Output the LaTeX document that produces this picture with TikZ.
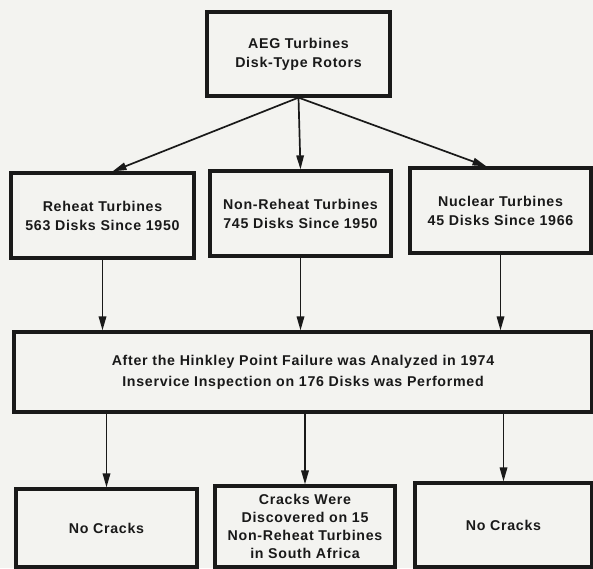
\documentclass[tikz,border=0pt]{standalone}
\usepackage{fontspec}
\setmainfont{Liberation Sans}
\newfontfamily\boxfont[LetterSpace=5]{Liberation Sans Bold}
\usetikzlibrary{arrows.meta}
\definecolor{paper}{RGB}{243,243,240}
\definecolor{ink}{RGB}{25,25,25}
\tikzset{
  box/.style={draw=ink, line width=3.2pt, fill=paper, align=center, inner sep=0pt,
    font=\boxfont\fontsize{14.2}{19}\selectfont, text=ink},
  arr/.style={draw=ink, line width=1.7pt, -{Triangle[length=14pt,width=7.5pt]}},
}
\begin{document}
\begin{tikzpicture}[x=1pt,y=-1pt]
\fill[paper] (0,0) rectangle (593,568);
\useasboundingbox (0,0) rectangle (593,568);
\clip (0,0) rectangle (593,568);
\node[box, minimum width=183pt, minimum height=84pt] (top) at (298.5,54) {AEG Turbines\\Disk-Type Rotors};
\node[box, minimum width=183pt, minimum height=85pt] (l) at (102.5,215.5) {Reheat Turbines\\563 Disks Since 1950};
\node[box, minimum width=181pt, minimum height=85pt] (m) at (300.5,213.5) {Non-Reheat Turbines\\745 Disks Since 1950};
\node[box, minimum width=181pt, minimum height=85pt] (r) at (500.5,210.5) {Nuclear Turbines\\45 Disks Since 1966};
\node[box, minimum width=578pt, minimum height=80pt, font=\boxfont\fontsize{14.2}{21}\selectfont] (w) at (303,372) {After the Hinkley Point Failure was Analyzed in 1974\\Inservice Inspection on 176 Disks was Performed};
\node[box, minimum width=181pt, minimum height=78pt] (bl) at (106.5,528) {No Cracks};
\node[box, minimum width=180pt, minimum height=81pt, font=\boxfont\fontsize{14.2}{18}\selectfont] (bm) at (305,526.5) {Cracks Were\\Discovered on 15\\Non-Reheat Turbines\\in South Africa};
\node[box, minimum width=177pt, minimum height=84pt] (br) at (503.5,525) {No Cracks};
\draw[arr] (top.south) -- ([xshift=10pt]l.north);
\draw[arr] (top.south) -- (m.north);
\draw[arr] (top.south) -- ([xshift=-14pt]r.north);
\draw[arr] (l.south) -- (l.south |- w.north);
\draw[arr] (m.south) -- (m.south |- w.north);
\draw[arr] (r.south) -- (r.south |- w.north);
\draw[arr] (bl.north |- w.south) -- (bl.north);
\draw[arr] (bm.north |- w.south) -- (bm.north);
\draw[arr] (br.north |- w.south) -- (br.north);
\end{tikzpicture}
\end{document}
